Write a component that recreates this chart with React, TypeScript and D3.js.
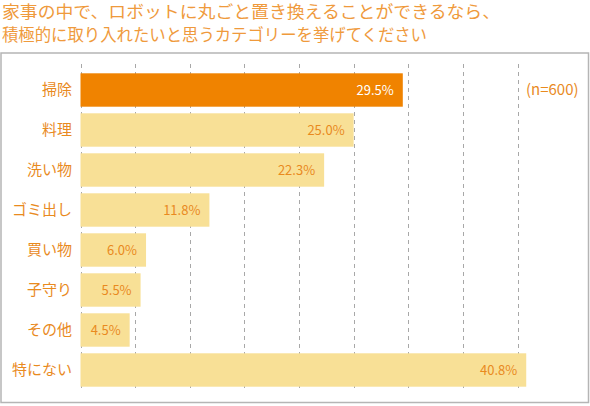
import * as d3 from 'd3';
import { type FC } from 'react';

const titleLines = [
  '家事の中で、ロボットに丸ごと置き換えることができるなら、',
  '積極的に取り入れたいと思うカテゴリーを挙げてください',
];
const categories = ['掃除', '料理', '洗い物', 'ゴミ出し', '買い物', '子守り', 'その他', '特にない'];
const values = [29.5, 25.0, 22.3, 11.8, 6.0, 5.5, 4.5, 40.8];
const gridTicks = [0, 5, 10, 15, 20, 25, 30, 35, 40];
const sampleNote = '(n=600)';

const FONT = '"Noto Sans CJK JP", "Noto Sans", sans-serif';
const LABEL = '#E98A1E';

const App: FC = () => {
  const width = 590;
  const height = 406;

  const x = d3.scaleLinear().domain([0, 40]).range([80.5, 517.5]);
  const y = d3
    .scaleBand<string>()
    .domain(categories)
    .range([70, 390])
    .paddingInner(0.165)
    .paddingOuter(0.0825);

  const rows = categories.map((c, i) => ({ c, v: values[i], i }));

  return (
    <svg
      width={width}
      height={height}
      style={{ position: 'absolute', left: 0, top: 0, background: '#fff' }}
      fontFamily={FONT}
    >
      {/* Title */}
      {titleLines.map((t, i) => (
        <text
          key={t}
          x={2}
          y={18 + i * 23}
          fontSize={16.5}
          fill="#EF9A3C"
          textLength={i === 0 ? 498 : 425}
          lengthAdjust="spacingAndGlyphs"
        >
          {t}
        </text>
      ))}

      {/* Frame */}
      <rect x={1} y={53} width={587.5} height={349.5} fill="none" stroke="#b5b5b5" strokeWidth={1.5} />

      {/* Grid */}
      {gridTicks.map((t) => (
        <line
          key={t}
          x1={Math.round(x(t)) + 0.5}
          x2={Math.round(x(t)) + 0.5}
          y1={64}
          y2={389}
          stroke="#a8a8a8"
          strokeDasharray="4,4"
        />
      ))}

      {/* Bars */}
      {rows.map((d) => (
        <rect
          key={d.c}
          x={x(0)}
          y={y(d.c)}
          width={x(d.v) - x(0)}
          height={y.bandwidth()}
          fill={d.i === 0 ? '#F08300' : '#F8E096'}
        />
      ))}

      {/* Category labels */}
      {rows.map((d) => (
        <text
          key={`c-${d.c}`}
          x={72}
          y={(y(d.c) || 0) + y.bandwidth() / 2}
          dy="0.35em"
          textAnchor="end"
          fontSize={15}
          fill={LABEL}
        >
          {d.c}
        </text>
      ))}

      {/* Value labels */}
      {rows.map((d) => (
        <text
          key={`v-${d.c}`}
          x={x(d.v) - 9}
          y={(y(d.c) || 0) + y.bandwidth() / 2}
          dy="0.35em"
          textAnchor="end"
          fontSize={13}
          fill={d.i === 0 ? '#fff' : LABEL}
        >
          {d.v.toFixed(1)}%
        </text>
      ))}

      <text x={526} y={(y(categories[0]) || 0) + y.bandwidth() / 2} dy="0.35em" fontSize={15} fill={LABEL}>
        {sampleNote}
      </text>
    </svg>
  );
};

export default App;
